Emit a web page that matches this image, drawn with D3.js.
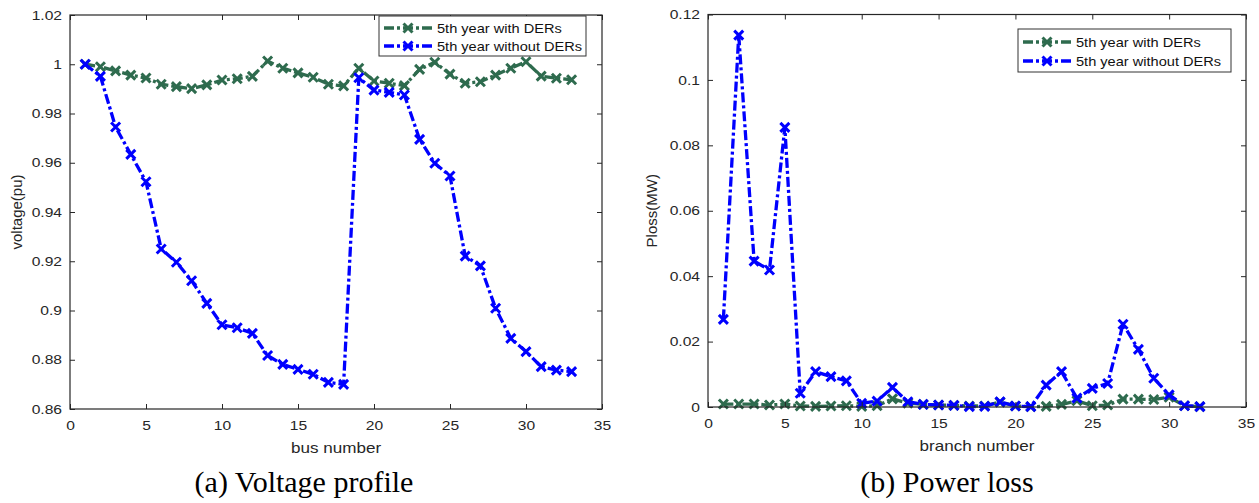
<!DOCTYPE html>
<html>
<head>
<meta charset="utf-8">
<script src="https://cdn.jsdelivr.net/npm/d3@7"></script>
<style>
  body { margin: 0; background: #fff; }
  svg { display: block; }
</style>
</head>
<body>
<div id="chart"></div>
<script>
// Data

var busNumbers = [1,2,3,4,5,6,7,8,9,10,11,12,13,14,15,16,17,18,19,20,21,22,23,24,25,26,27,28,29,30,31,32,33];
var voltageWithDER = [1.0000,0.9990,0.9973,0.9956,0.9944,0.9919,0.9909,0.9901,0.9916,0.9936,0.9941,0.9951,1.0013,0.9984,0.9965,0.9947,0.9919,0.9912,0.9984,0.9932,0.9923,0.9913,0.9979,1.0008,0.9960,0.9923,0.9929,0.9956,0.9984,1.0010,0.9952,0.9943,0.9937];
var voltageWithoutDER = [1.0000,0.9951,0.9745,0.9634,0.9523,0.9250,0.9196,0.9121,0.9029,0.8942,0.8930,0.8907,0.8817,0.8781,0.8761,0.8741,0.8708,0.8700,0.9945,0.9895,0.9886,0.9875,0.9695,0.9598,0.9546,0.9221,0.9181,0.9009,0.8887,0.8833,0.8772,0.8758,0.8752];

var branchNumbers = [1,2,3,4,5,6,7,8,9,10,11,12,13,14,15,16,17,18,19,20,21,22,23,24,25,26,27,28,29,30,31,32];
var lossWithDER = [0.0009,0.0009,0.0009,0.0006,0.0009,0.0003,0.0002,0.0003,0.0004,0.0002,0.0004,0.0025,0.0012,0.0008,0.0006,0.0005,0.0003,0.0003,0.0015,0.0003,0.0001,0.0002,0.0008,0.0019,0.0004,0.0006,0.0024,0.0024,0.0023,0.0030,0.0004,0.0001];
var lossWithoutDER = [0.0268,0.1137,0.0446,0.0419,0.0855,0.0042,0.0108,0.0093,0.0080,0.0011,0.0018,0.0060,0.0016,0.0008,0.0006,0.0005,0.0001,0.0002,0.0016,0.0003,0.0001,0.0067,0.0108,0.0027,0.0057,0.0072,0.0253,0.0176,0.0088,0.0037,0.0004,0.0001];

var xTicks = [0,5,10,15,20,25,30,35];
var voltageTicks = [0.86,0.88,0.90,0.92,0.94,0.96,0.98,1.00,1.02];
var lossTicks = [0,0.02,0.04,0.06,0.08,0.10,0.12];

var seriesNames = ["5th year with DERs", "5th year without DERs"];
var seriesColors = ["#2e6b4e", "#0000ff"];

// Page setup

var width = 1259;
var height = 503;

var svg = d3.select("#chart")
    .append("svg")
    .attr("width", width)
    .attr("height", height);

var axisColor = "#262626";
var sansFont = "'Liberation Sans', Arial, sans-serif";
var stretch = 1.22;   // the reference text is drawn a bit wide

// strip trailing zeros like matlab does: 1.00 -> 1, 0.10 -> 0.1
function tickFmt(v) {
    return String(+v.toFixed(2));
}

function xMark(sel, color) {
    sel.append("path")
        .attr("d", "M-4.5,-4.5L4.5,4.5M-4.5,4.5L4.5,-4.5")
        .attr("stroke", color)
        .attr("stroke-width", 3)
        .attr("fill", "none");
}

function drawPanel(p) {
    var x = d3.scaleLinear().domain([0, 35]).range([p.left, p.right]);
    var y = d3.scaleLinear().domain(p.yDomain).range([p.bottom, p.top]);

    var g = svg.append("g");

    // lines + markers
    p.series.forEach(function (vals, i) {
        var pts = vals.map(function (v, k) { return [p.xs[k], v]; });
        var line = d3.line()
            .x(function (d) { return x(d[0]); })
            .y(function (d) { return y(d[1]); });

        g.append("path")
            .datum(pts)
            .attr("d", line)
            .attr("fill", "none")
            .attr("stroke", seriesColors[i])
            .attr("stroke-width", 3.3)
            .attr("stroke-dasharray", "10,3,3,3");

        g.selectAll(".m" + i)
            .data(pts)
            .enter()
            .append("g")
            .attr("class", "m" + i)
            .attr("transform", function (d) { return "translate(" + x(d[0]) + "," + y(d[1]) + ")"; })
            .each(function () { xMark(d3.select(this), seriesColors[i]); });
    });

    // axes, ticks pointing inward
    var xAxis = g.append("g")
        .attr("transform", "translate(0," + p.bottom + ")")
        .call(d3.axisBottom(x).tickValues(xTicks).tickSizeInner(-5).tickSizeOuter(0).tickPadding(12));
    var yAxis = g.append("g")
        .attr("transform", "translate(" + p.left + ",0)")
        .call(d3.axisLeft(y).tickValues(p.yTicks).tickFormat(tickFmt).tickSizeInner(-5).tickSizeOuter(0));
    g.append("g")
        .attr("transform", "translate(0," + p.top + ")")
        .call(d3.axisTop(x).tickValues(xTicks).tickFormat("").tickSizeInner(-5).tickSizeOuter(0));
    g.append("g")
        .attr("transform", "translate(" + p.right + ",0)")
        .call(d3.axisRight(y).tickValues(p.yTicks).tickFormat("").tickSizeInner(-5).tickSizeOuter(0));

    g.selectAll(".domain").remove();
    g.selectAll(".tick line").attr("stroke", axisColor);

    xAxis.selectAll("text")
        .attr("font-family", sansFont)
        .attr("font-size", "12.8px")
        .attr("fill", axisColor)
        .attr("transform", "scale(" + stretch + ",1)");
    yAxis.selectAll("text")
        .attr("font-family", sansFont)
        .attr("font-size", "12.8px")
        .attr("fill", axisColor)
        .attr("x", -8 / stretch)
        .attr("transform", "scale(" + stretch + ",1)");

    // box
    g.append("rect")
        .attr("x", p.left)
        .attr("y", p.top)
        .attr("width", p.right - p.left)
        .attr("height", p.bottom - p.top)
        .attr("fill", "none")
        .attr("stroke", axisColor)
        .attr("stroke-width", 1.2);

    // axis titles
    g.append("text")
        .attr("transform", "translate(" + (p.left + p.right) / 2 + "," + (p.bottom + 44) + ") scale(" + stretch + ",1)")
        .attr("text-anchor", "middle")
        .attr("font-family", sansFont)
        .attr("font-size", "14px")
        .attr("fill", axisColor)
        .text(p.xLabel);

    g.append("text")
        .attr("transform", "translate(" + p.yLabelX + "," + (p.top + p.bottom) / 2 + ") rotate(-90)")
        .attr("text-anchor", "middle")
        .attr("font-family", sansFont)
        .attr("font-size", "15px")
        .attr("fill", axisColor)
        .text(p.yLabel);

    // legend
    var lg = g.append("g").attr("transform", "translate(" + p.legend[0] + "," + p.legend[1] + ")");
    lg.append("rect")
        .attr("width", p.legendW)
        .attr("height", p.legendH)
        .attr("fill", "#fff")
        .attr("stroke", "#333")
        .attr("stroke-width", 1);
    seriesNames.forEach(function (name, i) {
        var cy = p.legendRow0 + i * p.legendRowGap;
        lg.append("line")
            .attr("x1", 5).attr("x2", 54)
            .attr("y1", cy).attr("y2", cy)
            .attr("stroke", seriesColors[i])
            .attr("stroke-width", 3.3)
            .attr("stroke-dasharray", "10,3,3,3");
        var mk = lg.append("g").attr("transform", "translate(29," + cy + ")");
        xMark(mk, seriesColors[i]);
        lg.append("text")
            .attr("transform", "translate(58," + (cy + 4.5) + ") scale(1.14,1)")
            .attr("font-family", sansFont)
            .attr("font-size", "12.8px")
            .attr("fill", "#111")
            .text(name);
    });

    // caption
    svg.append("text")
        .attr("x", p.captionX)
        .attr("y", 492)
        .attr("text-anchor", "middle")
        .attr("font-family", "'Liberation Serif', 'Times New Roman', serif")
        .attr("font-size", "30px")
        .attr("fill", "#000")
        .text(p.caption);
}

drawPanel({
    left: 70, right: 602, top: 15, bottom: 409,
    xs: busNumbers,
    series: [voltageWithDER, voltageWithoutDER],
    yDomain: [0.86, 1.02],
    yTicks: voltageTicks,
    xLabel: "bus number",
    yLabel: "voltage(pu)",
    yLabelX: 22,
    legend: [379, 16], legendW: 207, legendH: 40, legendRow0: 12, legendRowGap: 18,
    captionX: 304,
    caption: "(a) Voltage profile"
});

drawPanel({
    left: 708, right: 1246, top: 14.5, bottom: 407,
    xs: branchNumbers,
    series: [lossWithDER, lossWithoutDER],
    yDomain: [0, 0.12],
    yTicks: lossTicks,
    xLabel: "branch number",
    yLabel: "Ploss(MW)",
    yLabelX: 657,
    legend: [1018, 29], legendW: 213, legendH: 43, legendRow0: 13, legendRowGap: 19,
    captionX: 947,
    caption: "(b) Power loss"
});
</script>
</body>
</html>
